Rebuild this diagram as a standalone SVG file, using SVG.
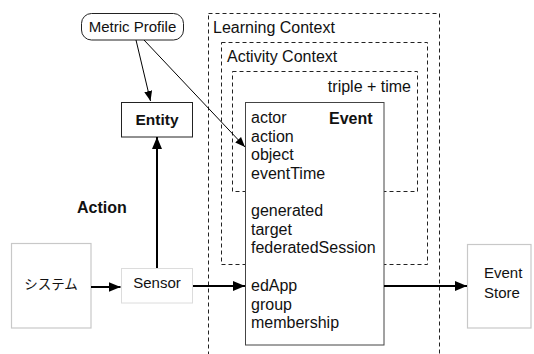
<svg xmlns="http://www.w3.org/2000/svg" width="534" height="354" viewBox="0 0 534 354">
<defs>
<marker id="big" viewBox="0 0 12 10" refX="12" refY="5" markerWidth="12" markerHeight="10" markerUnits="userSpaceOnUse" orient="auto"><path d="M0,0 L12,5 L0,10 Z" fill="#000"/></marker>
<marker id="small" viewBox="0 0 10 8" refX="10" refY="4" markerWidth="10" markerHeight="8" markerUnits="userSpaceOnUse" orient="auto"><path d="M0,0 L10,4 L0,8 Z" fill="#000"/></marker>
</defs>
<style>
text{font-family:"Liberation Sans",Arial,sans-serif;font-size:16px;fill:#111}
.b{font-weight:bold}
.dash{fill:none;stroke:#222;stroke-width:1;stroke-dasharray:4,3}
.thick{fill:none;stroke:#000;stroke-width:2;marker-end:url(#big)}
.thin{fill:none;stroke:#000;stroke-width:1;marker-end:url(#small)}
</style>
<rect width="534" height="354" fill="#fff"/>
<g id="learning-context">
<rect class="dash" x="208.5" y="13.5" width="231" height="360"/>
<text x="213" y="33">Learning Context</text>
</g>
<g id="activity-context">
<rect class="dash" x="221.5" y="42.5" width="206" height="222"/>
<text x="227" y="62">Activity Context</text>
</g>
<g id="triple-time">
<rect class="dash" x="232.5" y="71.5" width="185" height="120"/>
<text x="411" y="92" text-anchor="end">triple + time</text>
</g>
<g id="event">
<rect x="245.5" y="102.5" width="138.5" height="242.5" fill="#fff" stroke="#444" stroke-width="1"/>
<text x="251" y="123">actor</text>
<text x="251" y="141.5">action</text>
<text x="251" y="160">object</text>
<text x="251" y="178.5">eventTime</text>
<text x="329" y="124" class="b">Event</text>
<text x="251" y="216">generated</text>
<text x="251" y="234.5">target</text>
<text x="251" y="253">federatedSession</text>
<text x="251" y="291">edApp</text>
<text x="251" y="309.5">group</text>
<text x="251" y="328">membership</text>
</g>
<g id="metric-profile">
<rect x="81.5" y="13.5" width="102" height="26.5" rx="10" fill="#fff" stroke="#222"/>
<text x="132.5" y="31.5" text-anchor="middle" style="font-size:15px">Metric Profile</text>
</g>
<g id="entity">
<rect x="121.5" y="102.5" width="71" height="34.5" fill="#fff" stroke="#222"/>
<text x="157" y="125" text-anchor="middle" class="b" style="font-size:15.5px">Entity</text>
</g>
<g id="system">
<rect x="11.5" y="243.5" width="79.5" height="84.5" fill="#fff" stroke="#c8c8c8" stroke-width="1.2"/>
<text x="51" y="289" text-anchor="middle" style="font-family:'Noto Sans CJK JP',sans-serif;font-size:13.5px">システム</text>
</g>
<g id="sensor">
<rect x="121.5" y="268.5" width="71" height="34.5" fill="#fff" stroke="#dcdcdc" stroke-width="1"/>
<text x="157" y="287.5" text-anchor="middle" style="font-size:15px">Sensor</text>
</g>
<g id="event-store">
<rect x="467.5" y="244.5" width="63.5" height="83.5" fill="#fff" stroke="#c8c8c8" stroke-width="1.2"/>
<text x="484" y="278" style="font-size:15px">Event</text>
<text x="484" y="298" style="font-size:15px">Store</text>
</g>
<text x="77" y="213" class="b">Action</text>
<g id="connectors">
<line class="thin" x1="136" y1="40" x2="150.5" y2="101"/>
<line class="thin" x1="144" y1="40" x2="245" y2="147"/>
<line class="thick" x1="157" y1="268" x2="157" y2="137"/>
<line class="thick" x1="91" y1="287" x2="120.5" y2="287"/>
<line class="thick" x1="193" y1="286" x2="245" y2="286"/>
<line class="thick" x1="384" y1="286" x2="467" y2="286"/>
</g>
</svg>
